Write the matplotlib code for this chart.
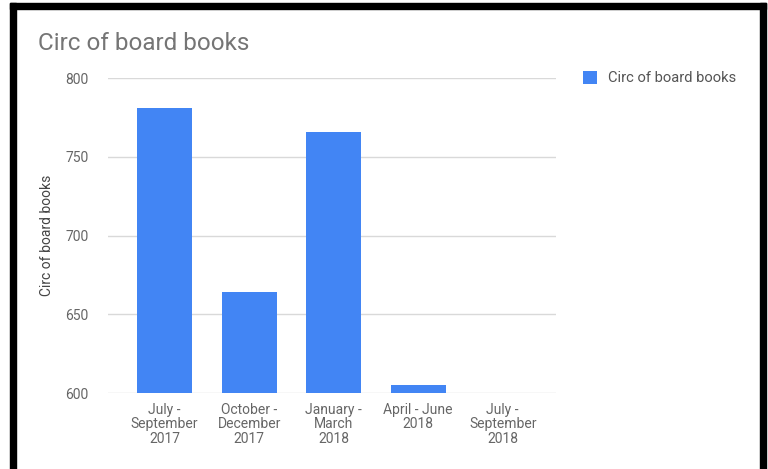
import numpy as np
import matplotlib
matplotlib.use('Agg')
import matplotlib.pyplot as plt
from matplotlib.patches import Rectangle

plt.rcParams['font.family'] = ['Roboto', 'DejaVu Sans']

# data
categories = ['July -\nSeptember\n2017', 'October -\nDecember\n2017', 'January -\nMarch\n2018',
              'April - June\n2018', 'July -\nSeptember\n2018']
circ = [781, 664, 766, 605, np.nan]
yticks = [600, 650, 700, 750, 800]

fig = plt.figure(figsize=(7.68, 4.69), dpi=100)
ax = fig.add_axes([108 / 768, 76 / 469, 448 / 768, 315 / 469])

x = np.arange(len(categories))
ax.bar(x, circ, width=0.65, color='#4285F4', label='Circ of board books', zorder=3)

ax.set_ylim(600, 800)
ax.set_xlim(-0.67, 4.63)
ax.set_yticks(yticks)
ax.set_xticks(x)
ax.set_xticklabels(categories, fontsize=10, color='#666666', linespacing=1.05)
ax.tick_params(axis='y', labelsize=10, labelcolor='#666666', length=0, pad=14)
ax.tick_params(axis='x', length=0, pad=7)
ax.grid(axis='y', color='#d9d9d9', linewidth=1, zorder=0)
for s in ax.spines.values():
    s.set_visible(False)

ax.set_ylabel('Circ of board books', fontsize=10, color='#444444', labelpad=8)
fig.text(38 / 768, 1 - 44 / 469, 'Circ of board books', fontsize=17.5, color='#757575',
         va='center', ha='left')

leg = ax.legend(loc='upper left', bbox_to_anchor=(1.06, 1.022), frameon=False,
                borderaxespad=0, borderpad=0, fontsize=10.6, handlelength=0.95,
                handleheight=0.95, handletextpad=0.75)
for t in leg.get_texts():
    t.set_color('#555555')

# black frame around the screenshot (no bottom edge)
fig.patches.append(Rectangle((10 / 768, 0), 6 / 768, 1 - 3 / 469, transform=fig.transFigure,
                             color='black', zorder=10))
fig.patches.append(Rectangle((760 / 768, 0), 6 / 768, 1 - 3 / 469, transform=fig.transFigure,
                             color='black', zorder=10))
fig.patches.append(Rectangle((10 / 768, 1 - 9 / 469), 756 / 768, 6 / 469, transform=fig.transFigure,
                             color='black', zorder=10))

fig.savefig('out.png', dpi=100)
